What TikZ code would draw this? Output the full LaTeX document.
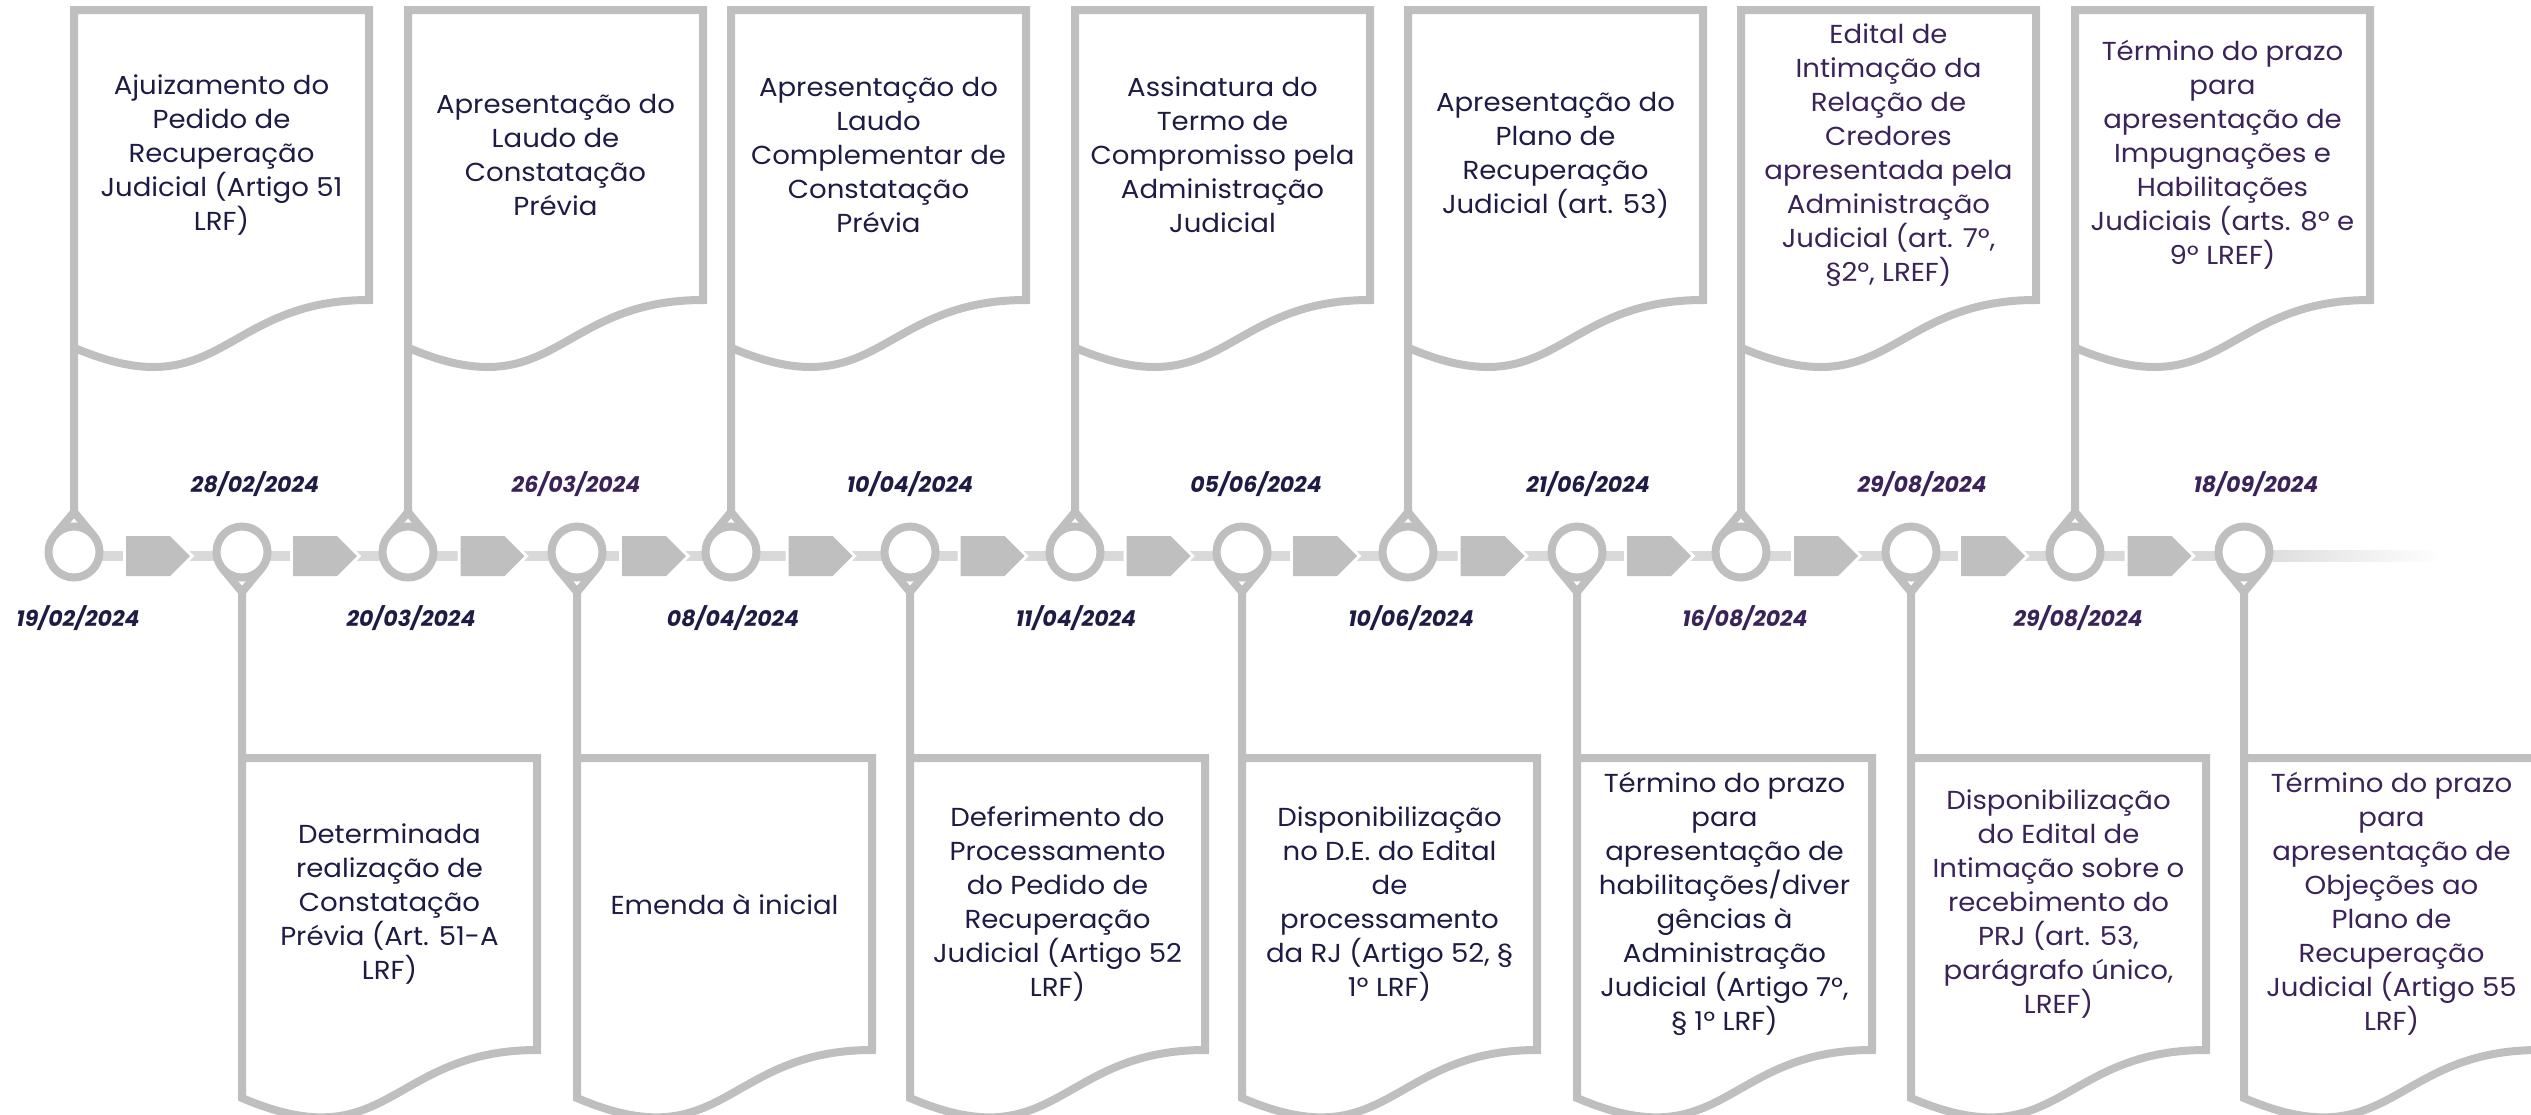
\documentclass[tikz,border=0pt]{standalone}
\usepackage{fontspec}
\setmainfont{Poppins}[FakeStretch=1.06]
\newfontfamily\datefont{Poppins}
\definecolor{boxgray}{HTML}{BFBFBF}
\definecolor{linegray}{HTML}{D9D9D9}
\definecolor{navy}{HTML}{1E1B45}
\definecolor{plum}{HTML}{3A2358}
\tikzset{
  boxline/.style={draw=boxgray, line width=8pt, line join=miter},
  pinring/.style={draw=boxgray, line width=8pt, fill=white},
  pintip/.style={draw=boxgray, line width=8pt, line join=miter},
  chevshape/.style={fill=boxgray, preaction={draw=white, line width=6pt, line join=miter}},
  boxtext/.style={align=center, font=\fontsize{26}{34}\selectfont, inner sep=0pt},
  datetext/.style={font=\datefont\fontsize{22}{26}\selectfont\bfseries\itshape, inner sep=0pt},
}
% top document box hanging from an up-pin
\newcommand\TopBox[4]{%
  \coordinate (#2tip) at (#1,512);
  \draw[boxline] (#2tip) -- (#1,10) -- ({#1+295},10) -- ({#1+295},300)
     .. controls ({#1+147.5},300) and ({#1+147.5},410.5) .. (#1,347.7);
  \node[boxtext, text=#3] (#2) at ({#1+147.5},155) {#4};
}
% bottom document box standing on a down-pin
\newcommand\BotBox[4]{%
  \coordinate (#2tip) at (#1,592);
  \draw[boxline] (#2tip) -- (#1,1098) .. controls ({#1+147.5},1161) and ({#1+147.5},1050) .. ({#1+295},1050)
     -- ({#1+295},758) -- (#1,758);
  \node[boxtext, text=#3] (#2) at ({#1+147.5},904) {#4};
}
\newcommand\UpPin[1]{%
  \draw[pinring] (#1,552) circle[radius=25.5pt];
  \draw[pintip] ({#1-19.6},535.7) -- (#1,512) -- ({#1+19.6},535.7);
}
\newcommand\DownPin[1]{%
  \draw[pinring] (#1,552) circle[radius=25.5pt];
  \draw[pintip] ({#1-19.6},568.3) -- (#1,592) -- ({#1+19.6},568.3);
}
\newcommand\Chev[2]{% between pin x #1 and #2
  \fill[chevshape] ({(#1+#2)/2-32},536) -- ({(#1+#2)/2+12},536) -- ({(#1+#2)/2+32},556)
     -- ({(#1+#2)/2+12},576) -- ({(#1+#2)/2-32},576) -- cycle;
}
\begin{document}
\begin{tikzpicture}[x=1pt,y=-1pt]
\path[use as bounding box] (0,0) rectangle (2531,1114);
\clip (0,0) rectangle (2531,1114);

% timeline bar
\fill[linegray] (74,550.75) rectangle (2244,561.25);
\shade[left color=linegray, right color=white] (2244,550.75) rectangle (2441,561.25);

% chevrons
\Chev{74}{242}
\Chev{242}{408}
\Chev{408}{577}
\Chev{577}{731}
\Chev{731}{910}
\Chev{910}{1075}
\Chev{1075}{1242}
\Chev{1242}{1408}
\Chev{1408}{1577}
\Chev{1577}{1741}
\Chev{1741}{1911}
\Chev{1911}{2075}
\Chev{2075}{2244}

% pins
\UpPin{74}   \DownPin{242}
\UpPin{408}  \DownPin{577}
\UpPin{731}  \DownPin{910}
\UpPin{1075} \DownPin{1242}
\UpPin{1408} \DownPin{1577}
\UpPin{1741} \DownPin{1911}
\UpPin{2075} \DownPin{2244}

% top boxes
\TopBox{74}{ta}{navy}{Ajuizamento do\\Pedido de\\Recuperação\\Judicial (Artigo 51\\LRF)}
\TopBox{408}{tb}{navy}{Apresentação do\\Laudo de\\Constatação\\Prévia}
\TopBox{731}{tc}{navy}{Apresentação do\\Laudo\\Complementar de\\Constatação\\Prévia}
\TopBox{1075}{td}{navy}{Assinatura do\\Termo de\\Compromisso pela\\Administração\\Judicial}
\TopBox{1408}{te}{navy}{Apresentação do\\Plano de\\Recuperação\\Judicial (art. 53)}
\TopBox{1741}{tf}{plum}{Edital de\\Intimação da\\Relação de\\Credores\\apresentada pela\\Administração\\Judicial (art. 7º,\\§2º, LREF)}
\TopBox{2075}{tg}{plum}{Término do prazo\\para\\apresentação de\\Impugnações e\\Habilitações\\Judiciais (arts. 8º e\\9º LREF)}

% bottom boxes
\BotBox{242}{ba}{navy}{Determinada\\realização de\\Constatação\\Prévia (Art. 51-A\\LRF)}
\BotBox{577}{bb}{navy}{Emenda à inicial}
\BotBox{910}{bc}{navy}{Deferimento do\\Processamento\\do Pedido de\\Recuperação\\Judicial (Artigo 52\\LRF)}
\BotBox{1242}{bd}{navy}{Disponibilização\\no D.E. do Edital\\de\\processamento\\da RJ (Artigo 52, §\\1º LRF)}
\BotBox{1577}{be}{navy}{Término do prazo\\para\\apresentação de\\habilitações/diver\\gências à\\Administração\\Judicial (Artigo 7º,\\§ 1º LRF)}
\BotBox{1911}{bf}{plum}{Disponibilização\\do Edital de\\Intimação sobre o\\recebimento do\\PRJ (art. 53,\\parágrafo único,\\LREF)}
\BotBox{2244}{bg}{plum}{Término do prazo\\para\\apresentação de\\Objeções ao\\Plano de\\Recuperação\\Judicial (Artigo 55\\LRF)}

% dates below the line (events of the top boxes)
\node[datetext, text=navy] (d1)  at (78,618)   {19/02/2024};
\node[datetext, text=navy] (d3)  at (411,618)  {20/03/2024};
\node[datetext, text=navy] (d5)  at (733,618)  {08/04/2024};
\node[datetext, text=navy] (d7)  at (1076,618) {11/04/2024};
\node[datetext, text=navy] (d9)  at (1411,618) {10/06/2024};
\node[datetext, text=plum] (d11) at (1745,618) {16/08/2024};
\node[datetext, text=plum] (d13) at (2078,618) {29/08/2024};
% dates above the line (events of the bottom boxes)
\node[datetext, text=navy] (d2)  at (255,484)  {28/02/2024};
\node[datetext, text=plum] (d4)  at (576,484)  {26/03/2024};
\node[datetext, text=navy] (d6)  at (910,484)  {10/04/2024};
\node[datetext, text=navy] (d8)  at (1256,484) {05/06/2024};
\node[datetext, text=navy] (d10) at (1588,484) {21/06/2024};
\node[datetext, text=plum] (d12) at (1922,484) {29/08/2024};
\node[datetext, text=plum] (d14) at (2256,484) {18/09/2024};
\end{tikzpicture}
\end{document}
